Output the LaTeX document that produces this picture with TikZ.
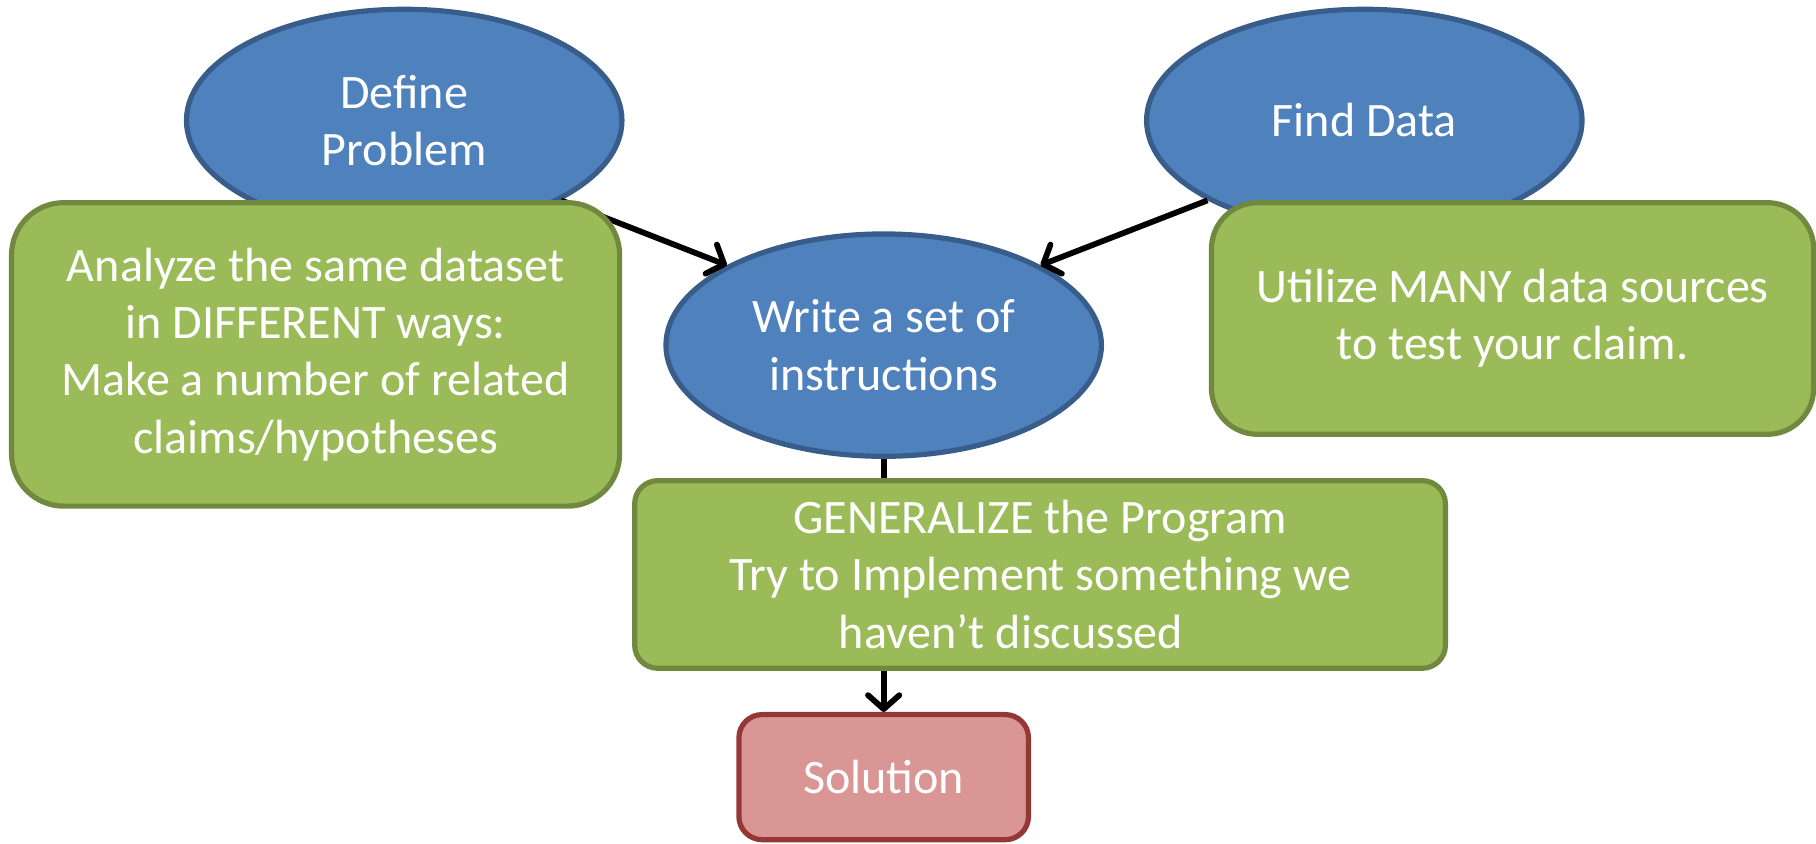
\documentclass[tikz,border=0pt]{standalone}
\usepackage{fontspec}
\setmainfont{Carlito}
\usetikzlibrary{shapes.geometric,arrows.meta}
\definecolor{bfill}{HTML}{4F81BD}
\definecolor{bline}{HTML}{385D8A}
\definecolor{gfill}{HTML}{9BBB59}
\definecolor{gline}{HTML}{71893F}
\definecolor{rfill}{HTML}{D99694}
\definecolor{rline}{HTML}{953735}
\tikzset{
  txt/.style={text=white, align=center, font=\fontsize{41.5}{49.5}\selectfont, inner sep=0pt},
  oval/.style={txt, ellipse, fill=bfill, draw=bline, line width=4.5pt, minimum width=376pt, minimum height=192pt},
  gbox/.style={txt, rectangle, fill=gfill, draw=gline, line width=4.5pt},
  rbox/.style={txt, rectangle, fill=rfill, draw=rline, line width=4.5pt, rounded corners=20pt},
  conn/.style={line width=5pt, -{Straight Barb[length=12pt,width=27pt,round]}},
}
\begin{document}
\begin{tikzpicture}[x=1pt,y=-1pt]
\useasboundingbox (0,0) rectangle (1568,728);
\node[oval] (def) at (349,104) {Define\\Problem};
\node[oval] (fd) at (1178,104) {Find Data};
\node[oval] (wr) at (763,298) {Write a set of\\instructions};
\draw[conn] (def.-27) -- (wr.153);
\draw[conn] (fd.207) -- (wr.27);
\node[rbox, minimum width=250pt, minimum height=108pt] (sol) at (763,671) {Solution};
\draw[conn] (wr.south) -- (sol.north);
\node[gbox, rounded corners=45pt, minimum width=525pt, minimum height=262pt] (ana) at (272.5,306) {Analyze the same dataset\\in DIFFERENT ways:\\Make a number of related\\claims/hypotheses};
\node[gbox, rounded corners=40pt, minimum width=520pt, minimum height=200pt] (util) at (1306,275) {Utilize MANY data sources\\to test your claim.};
\node[gbox, rounded corners=20pt, minimum width=700pt, minimum height=162pt] (gen) at (898,496) {GENERALIZE the Program\\Try to Implement something we\\haven’t discussed\hspace*{50pt}};
\end{tikzpicture}
\end{document}
